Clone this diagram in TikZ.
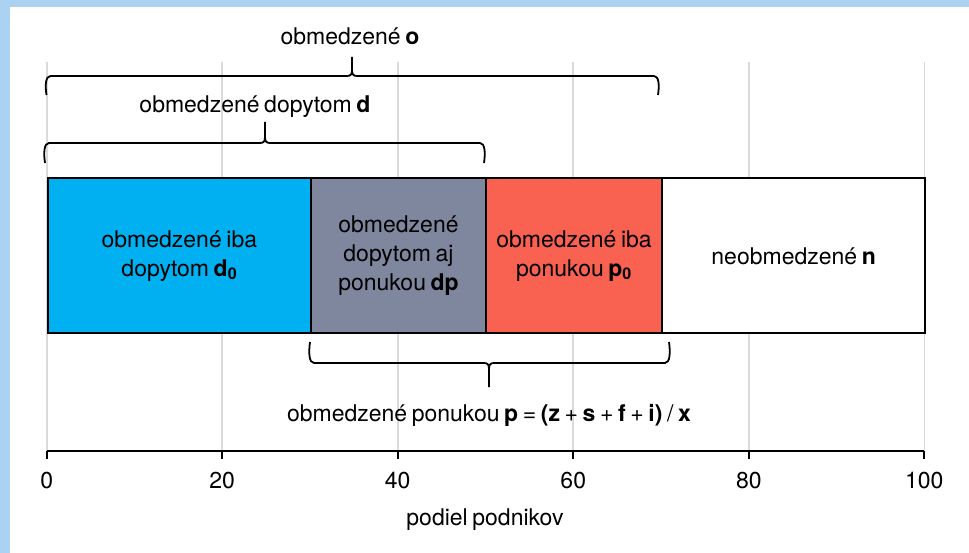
\documentclass[tikz,border=0pt]{standalone}
\usepackage{fontspec}
\setmainfont[WordSpace=0.72]{TeX Gyre Heros}
\definecolor{cyanbar}{HTML}{00B0F0}
\definecolor{graybar}{HTML}{7F879F}
\definecolor{redbar}{HTML}{F96151}
\definecolor{gridgray}{HTML}{DADADA}
\definecolor{frameblue}{HTML}{ABD2F1}
\begin{document}
\begin{tikzpicture}[x=1pt,y=-1pt,
  font=\fontsize{23}{29}\selectfont,
  gridline/.style={draw=gridgray, line width=1.6pt},
  bar/.style={draw=black, line width=2pt, inner sep=0pt, minimum height=155pt, align=center, anchor=west},
  bracestyle/.style={draw=black, line width=1.8pt},
  axisline/.style={draw=black, line width=2.2pt},
  lbl/.style={inner sep=0pt, anchor=base},
  pics/curly/.style n args={4}{code={
    \draw[bracestyle] (0,0) .. controls (-1.5,-0.5*#2) and (-1,-#2) .. (4,-#2)
      -- ({#4-5},-#2) .. controls ({#4-1.5},-#2) and (#4,{-#2-1.5}) .. (#4,{-#2-6})
      -- (#4,{-#2-#3});
    \draw[bracestyle] (#1,0) .. controls ({#1+1.5},-0.5*#2) and ({#1+1},-#2) .. ({#1-4},-#2)
      -- ({#4+5},-#2) .. controls ({#4+1.5},-#2) and (#4,{-#2-1.5}) .. (#4,{-#2-6});
  }}
]
\useasboundingbox (0,0) rectangle (969,553);
\fill[white] (0,0) rectangle (969,553);
\fill[frameblue] (0,0) rectangle (969,7);
\fill[frameblue] (0,0) rectangle (10,553);

% grid
\foreach \i in {0,...,5}{
  \pgfmathsetmacro{\gx}{46.7+175.52*\i}
  \draw[gridline] (\gx,62) -- (\gx,451);
}

% bars
\node[bar, fill=cyanbar, minimum width=263.3pt] (b1) at (46.7,255.8) {obmedzené iba\\dopytom \textbf{d}\textsubscript{\textbf{0}}};
\node[bar, fill=graybar, minimum width=175pt] (b2) at (310,255.8) {obmedzené\\dopytom aj\\ponukou \textbf{dp}};
\node[bar, fill=redbar, minimum width=176pt] (b3) at (485,255.8) {obmedzené iba\\ponukou \textbf{p}\textsubscript{\textbf{0}}};
\node[bar, fill=white, minimum width=263.3pt] (b4) at (661,255.8) {neobmedzené \textbf{n}};

% braces
\pic at (46.5,95) {curly={611.5}{19}{19}{305.5}};
\pic at (45,163) {curly={439}{20}{21}{220}};
\pic[yscale=-1] at (310,342) {curly={359}{21}{24}{179}};

% brace labels
\node[lbl] (lo) at (350,45) {obmedzené \textbf{o}};
\node[lbl] (ld) at (255,113) {obmedzené dopytom \textbf{d}};
\node[lbl] (lp) at (489,421) {obmedzené ponukou \textbf{p} = \textbf{(z} + \textbf{s} + \textbf{f} + \textbf{i)} / \textbf{x}};

% axis
\draw[axisline] (46.7,451) -- (924.3,451);
\foreach \i/\v in {0/0,1/20,2/40,3/60,4/80,5/100}{
  \pgfmathsetmacro{\gx}{46.7+175.52*\i}
  \draw[axisline] (\gx,451) -- (\gx,459);
  \node[lbl] (t\i) at (\gx,488) {\v};
}
\node[lbl] (xlab) at (485,525) {podiel podnikov};
\end{tikzpicture}
\end{document}
